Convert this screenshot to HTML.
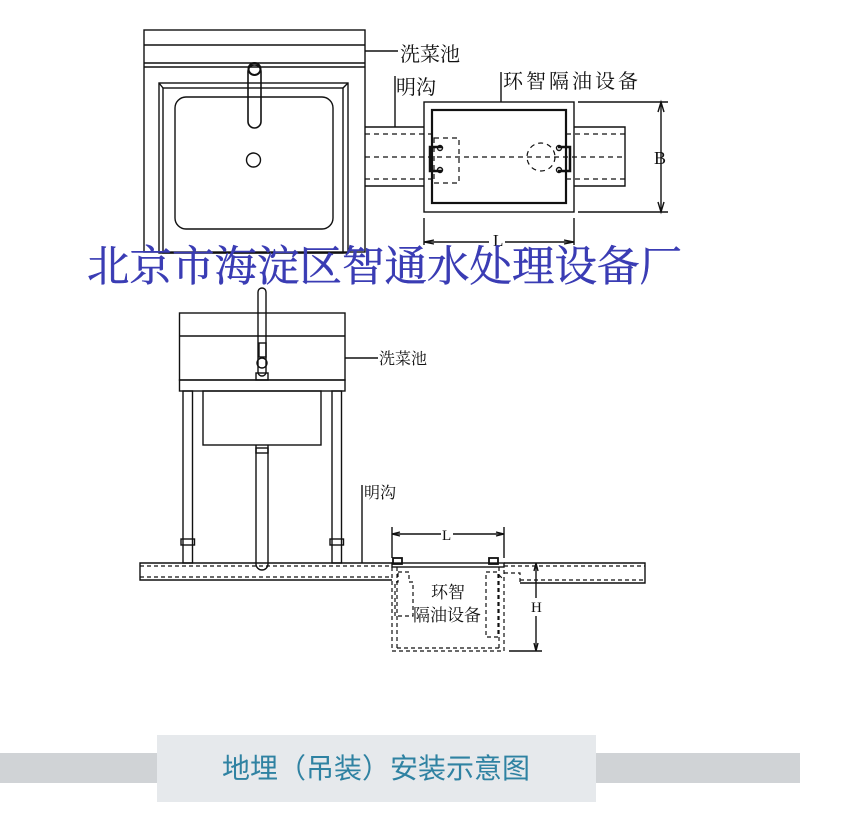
<!DOCTYPE html>
<html><head><meta charset="utf-8"><style>
html,body{margin:0;padding:0;background:#fff;}
svg{display:block;}
text{font-family:"Liberation Serif","Noto Serif CJK SC",serif;fill:#111;}
</style></head><body>
<svg width="860" height="814" viewBox="0 0 860 814" xmlns="http://www.w3.org/2000/svg">
<g fill="none" stroke="#111" stroke-width="1.4">
<rect x="144" y="30" width="221" height="222"/>
<line x1="144" y1="45" x2="365" y2="45"/>
<line x1="144" y1="63" x2="365" y2="63"/>
<line x1="144" y1="67" x2="365" y2="67"/>
<rect x="159" y="83" width="189" height="170"/>
<rect x="163" y="88" width="180" height="165"/>
<line x1="159" y1="83" x2="163" y2="88"/><line x1="348" y1="83" x2="343" y2="88"/>
<rect x="175" y="97" width="158" height="132" rx="11"/>
<rect x="248" y="65" width="13" height="63" rx="6.5" stroke-width="1.6"/>
<circle cx="254.5" cy="69" r="6" stroke-width="2"/>
<circle cx="253.5" cy="160" r="7"/>
<polyline points="365,127 424,127"/><polyline points="365,186 424,186"/>
<polyline points="574,127 625,127 625,186 574,186"/>
<g stroke-dasharray="5,4" stroke-width="1.2">
<line x1="365" y1="134" x2="432" y2="134"/><line x1="365" y1="179" x2="432" y2="179"/>
<line x1="365" y1="157" x2="625" y2="157"/>
<line x1="566" y1="134" x2="625" y2="134"/><line x1="566" y1="179" x2="625" y2="179"/>
<rect x="434" y="138" width="25" height="45"/>
<circle cx="541" cy="157" r="14"/>
</g>
<rect x="424" y="102" width="150" height="110"/>
<rect x="432" y="110" width="134" height="93" stroke-width="2.2"/>
<path d="M442,147 H430 V171 H442" stroke-width="2.5"/>
<circle cx="440" cy="148" r="2.5"/><circle cx="440" cy="170" r="2.5"/>
<path d="M558,147 H570 V171 H558" stroke-width="2.5"/>
<circle cx="559" cy="148" r="2.5"/><circle cx="559" cy="170" r="2.5"/>
<line x1="578" y1="102" x2="668" y2="102"/><line x1="578" y1="212" x2="668" y2="212"/>
<line x1="661" y1="102" x2="661" y2="212"/>
<path d="M658,112 L661,102 L664,112 M658,202 L661,212 L664,202"/>
<line x1="424" y1="218" x2="424" y2="245"/><line x1="574" y1="218" x2="574" y2="245"/>
<line x1="424" y1="242" x2="574" y2="242"/>
<path d="M434,240 L424,242 L434,244 M564,240 L574,242 L564,244"/>
<line x1="365" y1="51" x2="398" y2="51"/>
<line x1="395" y1="76" x2="395" y2="127"/>
<line x1="501" y1="72" x2="501" y2="102"/>

<rect x="258" y="288" width="8" height="88" rx="4"/>
<rect x="259" y="343" width="7" height="14"/>
<circle cx="262" cy="363" r="5"/>
<rect x="256" y="373" width="12" height="7"/>
<rect x="179.5" y="313" width="165.5" height="67"/>
<line x1="179.5" y1="336" x2="345" y2="336"/>
<rect x="179.5" y="380" width="165.5" height="11"/>
<rect x="183" y="391" width="9.5" height="172"/>
<rect x="181" y="539" width="13.5" height="6"/>
<rect x="332" y="391" width="9.5" height="172"/>
<rect x="330" y="539" width="13.5" height="6"/>
<rect x="203" y="391" width="118" height="54"/>
<path d="M256,445 V564 A6,6 0 0 0 268,564 V445"/>
<rect x="256" y="448" width="12" height="5"/>
<line x1="345" y1="358" x2="378" y2="358"/>
<line x1="362" y1="485" x2="362" y2="563"/>
<polyline points="392,563 140,563 140,580 392,580"/>
<polyline points="504,563 645,563 645,583 520,583"/>
<g stroke-dasharray="4,3" stroke-width="1.2">
<line x1="140" y1="566" x2="392" y2="566"/><line x1="140" y1="577" x2="392" y2="577"/>
<line x1="504" y1="566" x2="645" y2="566"/><line x1="520" y1="580" x2="645" y2="580"/>
<polyline points="392,567 392,651 504,651 504,567"/>
<line x1="397" y1="567" x2="397" y2="648"/><line x1="499" y1="567" x2="499" y2="648"/>
<line x1="397" y1="648" x2="499" y2="648"/>
<path d="M398,572 H409 V582 H413 V616 H395 V582 H398 Z"/>
<path d="M486,572 H498 V637 H486 Z"/>
<path d="M504,573 H520 V583 M499,575 L504,580"/>
</g>
<rect x="392" y="563" width="112" height="4"/>
<rect x="393" y="558" width="9" height="6" stroke-width="1.8"/>
<rect x="489" y="558" width="9" height="6" stroke-width="1.8"/>
<line x1="392" y1="527" x2="392" y2="558"/><line x1="504" y1="527" x2="504" y2="558"/>
<line x1="392" y1="534" x2="504" y2="534"/>
<path d="M400,532 L392,534 L400,536 M496,532 L504,534 L496,536"/>
<line x1="536" y1="563" x2="536" y2="651"/>
<line x1="509" y1="651" x2="542" y2="651"/>
<path d="M534,571 L536,563 L538,571 M534,643 L536,651 L538,643"/>
</g>
<rect x="530" y="598" width="12" height="18" fill="#fff"/>

<g font-size="20">
<text x="400" y="61">洗菜池</text>
<text x="396" y="94">明沟</text>
<text x="503" y="88" letter-spacing="3">环智隔油设备</text>
<text x="654" y="164" font-size="18">B</text>
</g>
<rect x="489" y="231" width="16" height="16" fill="#fff"/>
<text x="493" y="246" font-size="17">L</text>
<g font-size="16">
<text x="379" y="364">洗菜池</text>
<text x="364" y="498">明沟</text>
<text x="431" y="598" font-size="17">环智</text>
<text x="413" y="621" font-size="17">隔油设备</text>
</g>
<rect x="441" y="527" width="12" height="14" fill="#fff"/>
<text x="442" y="540" font-size="15">L</text>
<text x="531" y="612" font-size="15">H</text>

<text x="87" y="281" font-size="42.5" style="fill:#3a3cb4;font-family:'Liberation Serif','Noto Serif CJK SC',serif;stroke:#3a3cb4;stroke-width:0.5;">北京市海淀区智通水处理设备厂</text>

<rect x="0" y="753" width="800" height="30" fill="#d0d3d6"/>
<rect x="157" y="735" width="439" height="67" fill="#e6e9ec"/>
<text x="376" y="778" text-anchor="middle" font-size="28" style="fill:#2f82a2;font-family:'Liberation Sans','Noto Sans CJK SC',sans-serif;">地埋（吊装）安装示意图</text>
</svg>
</body></html>
